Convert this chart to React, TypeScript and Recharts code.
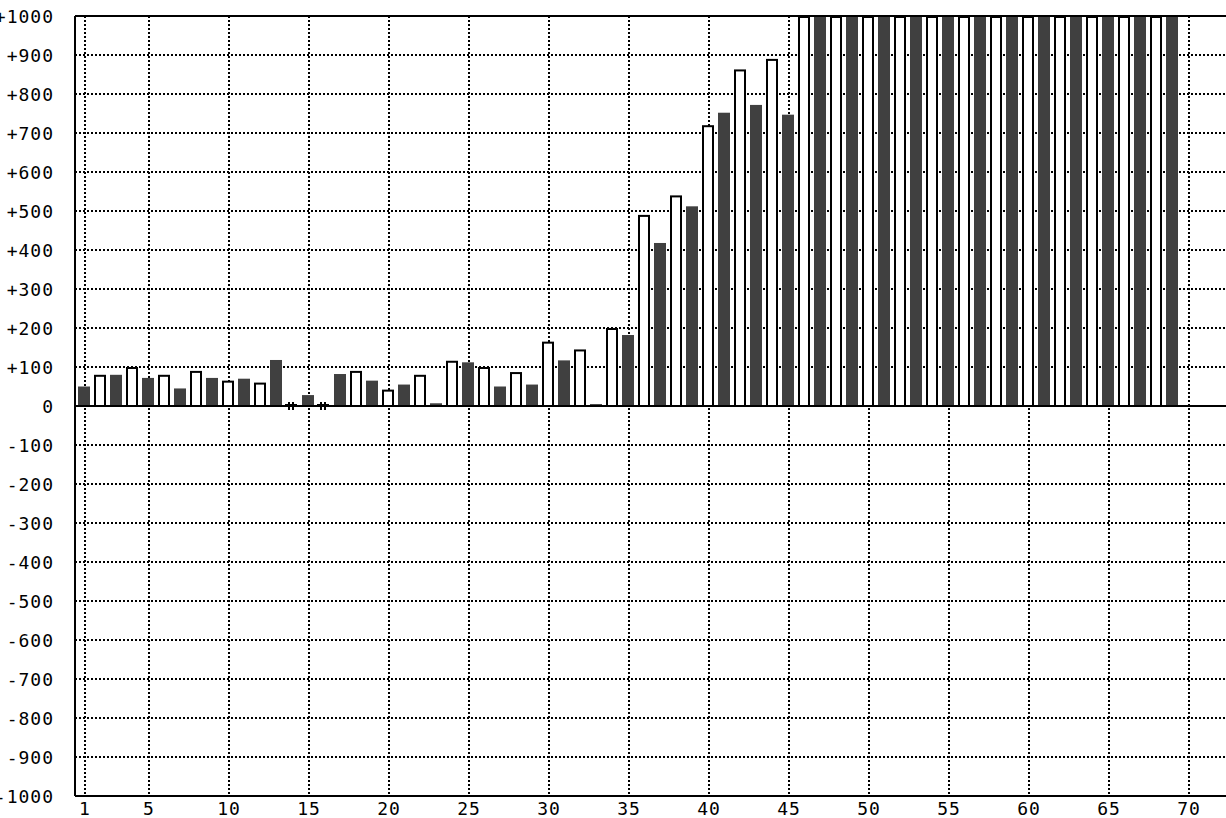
import React from 'react';
import { BarChart, Bar, XAxis, YAxis, CartesianGrid, ReferenceLine } from 'recharts';

// Category numbers (x positions 1..70)
const categories: number[] = [
  1, 2, 3, 4, 5, 6, 7, 8, 9, 10, 11, 12, 13, 14, 15, 16, 17, 18, 19, 20,
  21, 22, 23, 24, 25, 26, 27, 28, 29, 30, 31, 32, 33, 34, 35, 36, 37, 38, 39, 40,
  41, 42, 43, 44, 45, 46, 47, 48, 49, 50, 51, 52, 53, 54, 55, 56, 57, 58, 59, 60,
  61, 62, 63, 64, 65, 66, 67, 68, 69, 70,
];

// Dark series: values at odd categories 1, 3, 5, ... 69
const darkValues: (number | null)[] = [
  50, 80, 72, 45, 72, 70, 118, 28, 82, 65,
  55, 7, 112, 50, 55, 117, 5, 182, 418, 512,
  752, 772, 747, 1000, 1000, 1000, 1000, 1000, 1000, 1000,
  1000, 1000, 1000, 1000, 1000,
];

// White series: values at even categories 2, 4, 6, ... 70
const whiteValues: (number | null)[] = [
  80, 100, 80, 90, 65, 60, 0, 0, 90, 42,
  80, 116, 100, 87, 165, 145, 200, 490, 540, 720,
  863, 890, 1000, 1000, 1000, 1000, 1000, 1000, 1000, 1000,
  1000, 1000, 1000, 1000, null,
];

const xTicks: number[] = [1, 5, 10, 15, 20, 25, 30, 35, 40, 45, 50, 55, 60, 65, 70];
const yTicks: number[] = [
  -1000, -900, -800, -700, -600, -500, -400, -300, -200, -100, 0,
  100, 200, 300, 400, 500, 600, 700, 800, 900, 1000,
];

const data = categories.map((c) => {
  const odd = c % 2 === 1;
  return {
    x: c,
    value: odd ? darkValues[(c - 1) / 2] : whiteValues[c / 2 - 1],
    series: odd ? 'dark' : 'white',
  };
});

const FONT = '"DejaVu Sans Mono", monospace';

const fmtY = (v: number) => (v > 0 ? `+${v}` : String(v));

const YTick = (props: any) => {
  const { x, y, payload } = props;
  return (
    <text x={x} y={y + 6.5} textAnchor="end" fontFamily={FONT} fontSize={18} letterSpacing={1} fill="#000">
      {fmtY(payload.value)}
    </text>
  );
};

const XTick = (props: any) => {
  const { x, y, payload } = props;
  return (
    <text x={x} y={y + 19} textAnchor="middle" fontFamily={FONT} fontSize={18} letterSpacing={1} fill="#000">
      {payload.value}
    </text>
  );
};

const BarShape = (props: any) => {
  const { x, y, width, height, payload } = props;
  if (payload == null || payload.value == null) return null;
  const bx = x - 1;
  if (payload.series === 'dark') {
    return <rect x={bx} y={y} width={width} height={Math.max(height, 0)} fill="#404040" />;
  }
  if (payload.value === 0) {
    const cx = Math.round(bx + width / 2) - 1;
    const y0 = Math.round(y);
    return (
      <g>
        <rect x={cx - 3} y={y0 - 4} width={2} height={8} fill="#000" />
        <rect x={cx + 1} y={y0 - 4} width={2} height={8} fill="#000" />
        <rect x={cx - 6} y={y0 - 2} width={12} height={1} fill="#000" />
      </g>
    );
  }
  return (
    <rect
      x={bx + 1}
      y={y + 1}
      width={width - 2}
      height={Math.max(height - 1, 0)}
      fill="#fff"
      stroke="#000"
      strokeWidth={2}
    />
  );
};

export default function App() {
  return (
    <div
      style={{
        position: 'absolute',
        left: 0,
        top: 0,
        width: 1226,
        height: 818,
        overflow: 'hidden',
        background: '#fff',
      }}
    >
      <BarChart
        width={1260}
        height={818}
        data={data}
        margin={{ top: 16, right: 0, bottom: 0, left: 0 }}
      >
        <CartesianGrid stroke="#000" strokeWidth={2} strokeDasharray="2 2" />
        <XAxis
          dataKey="x"
          type="number"
          domain={[0.375, 74.4375]}
          ticks={xTicks}
          interval={0}
          allowDataOverflow
          height={22}
          axisLine={{ stroke: '#000', strokeWidth: 2 }}
          tickLine={false}
          tickSize={0}
          tickMargin={0}
          tick={<XTick />}
        />
        <YAxis
          type="number"
          domain={[-1000, 1000]}
          ticks={yTicks}
          interval={0}
          allowDataOverflow
          width={75}
          axisLine={{ stroke: '#000', strokeWidth: 2 }}
          tickLine={false}
          tickSize={0}
          tickMargin={21}
          tick={<YTick />}
        />
        <Bar dataKey="value" barSize={12} isAnimationActive={false} shape={<BarShape />} />
        <ReferenceLine y={0} stroke="#000" strokeWidth={2} />
        <ReferenceLine y={1000} stroke="#000" strokeWidth={2} />
      </BarChart>
    </div>
  );
}
